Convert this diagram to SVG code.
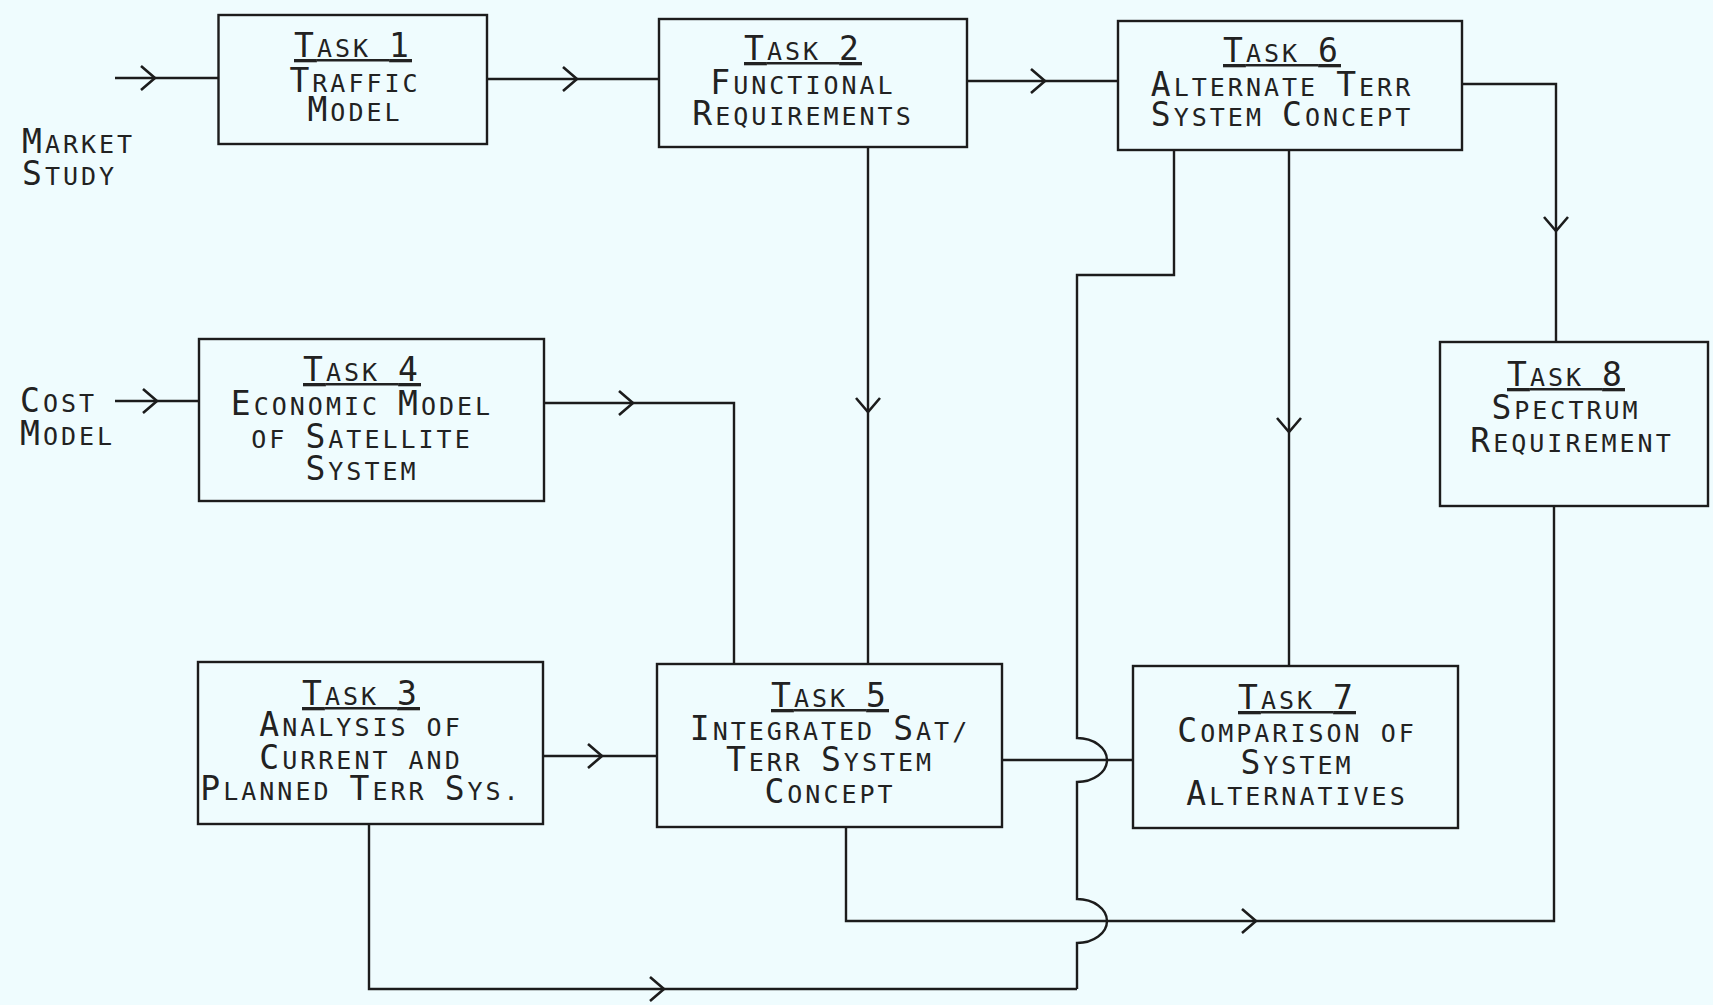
<svg xmlns="http://www.w3.org/2000/svg" xmlns:xlink="http://www.w3.org/1999/xlink" width="1713" height="1005" viewBox="0 0 1713 1005">
<style>
.bg{fill:#EFFCFE}
.box{fill:none;stroke:#1c1c1c;stroke-width:2.4}
.ln{fill:none;stroke:#1c1c1c;stroke-width:2.4}
.t{font-family:"DejaVu Sans Mono","Liberation Mono",monospace;font-size:25px;letter-spacing:3px;fill:#222}
.c{text-anchor:middle}
.b{font-size:33px}
.u{text-decoration:underline}
</style>
<defs>
<path id="chev" d="M-14,-12 L0,0 L-14,12" fill="none" stroke="#1c1c1c" stroke-width="2.6"/>
</defs>
<rect class="bg" x="0" y="0" width="1713" height="1005"/>

<g id="connectors">
<path class="ln" d="M115,78 H218"/>
<use xlink:href="#chev" transform="translate(155,78)"/>
<path class="ln" d="M487,79 H659"/>
<use xlink:href="#chev" transform="translate(577,79)"/>
<path class="ln" d="M967,81 H1118"/>
<use xlink:href="#chev" transform="translate(1045,81)"/>
<path class="ln" d="M1462,84 H1556 V342"/>
<use xlink:href="#chev" transform="translate(1556,231) rotate(90)"/>
<path class="ln" d="M868,147 V664"/>
<use xlink:href="#chev" transform="translate(868,412) rotate(90)"/>
<path class="ln" d="M1289,150 V666"/>
<use xlink:href="#chev" transform="translate(1289,432) rotate(90)"/>
<path class="ln" d="M1174,150 V275 H1077 V738 A30 22 0 0 1 1077 782 V899 A30 22 0 0 1 1077 943 V989"/>
<path class="ln" d="M115,401 H199"/>
<use xlink:href="#chev" transform="translate(157,401)"/>
<path class="ln" d="M544,403 H734 V664"/>
<use xlink:href="#chev" transform="translate(633,403)"/>
<path class="ln" d="M543,756 H657"/>
<use xlink:href="#chev" transform="translate(602,756)"/>
<path class="ln" d="M1002,760 H1133"/>
<path class="ln" d="M846,827 V921 H1554 V506"/>
<use xlink:href="#chev" transform="translate(1256,921)"/>
<path class="ln" d="M369,824 V989 H1077"/>
<use xlink:href="#chev" transform="translate(664,989)"/>
</g>

<g id="market-study">
<text class="t"><tspan x="22" y="153"><tspan class="b">M</tspan>ARKET</tspan><tspan x="22" y="185"><tspan class="b">S</tspan>TUDY</tspan></text>
</g>
<g id="cost-model">
<text class="t"><tspan x="20" y="412"><tspan class="b">C</tspan>OST</tspan><tspan x="20" y="445"><tspan class="b">M</tspan>ODEL</tspan></text>
</g>

<g id="task1">
<rect class="box" x="218.5" y="15" width="268.5" height="129"/>
<text class="t c"><tspan class="u" x="353" y="57"><tspan class="b">T</tspan>ASK <tspan class="b">1</tspan></tspan><tspan x="355" y="92"><tspan class="b">T</tspan>RAFFIC</tspan><tspan x="355" y="121"><tspan class="b">M</tspan>ODEL</tspan></text>
</g>

<g id="task2">
<rect class="box" x="659" y="19" width="308" height="128"/>
<text class="t c"><tspan class="u" x="803" y="60"><tspan class="b">T</tspan>ASK <tspan class="b">2</tspan></tspan><tspan x="803" y="94"><tspan class="b">F</tspan>UNCTIONAL</tspan><tspan x="803" y="125"><tspan class="b">R</tspan>EQUIREMENTS</tspan></text>
</g>

<g id="task6">
<rect class="box" x="1118" y="21" width="344" height="129"/>
<text class="t c"><tspan class="u" x="1282" y="62"><tspan class="b">T</tspan>ASK <tspan class="b">6</tspan></tspan><tspan x="1282" y="96"><tspan class="b">A</tspan>LTERNATE <tspan class="b">T</tspan>ERR</tspan><tspan x="1282" y="126"><tspan class="b">S</tspan>YSTEM <tspan class="b">C</tspan>ONCEPT</tspan></text>
</g>

<g id="task4">
<rect class="box" x="199" y="339" width="345" height="162"/>
<text class="t c"><tspan class="u" x="362" y="381"><tspan class="b">T</tspan>ASK <tspan class="b">4</tspan></tspan><tspan x="362" y="415"><tspan class="b">E</tspan>CONOMIC <tspan class="b">M</tspan>ODEL</tspan><tspan x="362" y="448">OF <tspan class="b">S</tspan>ATELLITE</tspan><tspan x="362" y="480"><tspan class="b">S</tspan>YSTEM</tspan></text>
</g>

<g id="task8">
<rect class="box" x="1440" y="342" width="268" height="164"/>
<text class="t c"><tspan class="u" x="1566" y="386"><tspan class="b">T</tspan>ASK <tspan class="b">8</tspan></tspan><tspan x="1566" y="419"><tspan class="b">S</tspan>PECTRUM</tspan><tspan x="1572" y="452"><tspan class="b">R</tspan>EQUIREMENT</tspan></text>
</g>

<g id="task3">
<rect class="box" x="198" y="662" width="345" height="162"/>
<text class="t c"><tspan class="u" x="361" y="705"><tspan class="b">T</tspan>ASK <tspan class="b">3</tspan></tspan><tspan x="361" y="736"><tspan class="b">A</tspan>NALYSIS OF</tspan><tspan x="361" y="769"><tspan class="b">C</tspan>URRENT AND</tspan><tspan x="361" y="800"><tspan class="b">P</tspan>LANNED <tspan class="b">T</tspan>ERR <tspan class="b">S</tspan>YS.</tspan></text>
</g>

<g id="task5">
<rect class="box" x="657" y="664" width="345" height="163"/>
<text class="t c"><tspan class="u" x="830" y="707"><tspan class="b">T</tspan>ASK <tspan class="b">5</tspan></tspan><tspan x="830" y="740"><tspan class="b">I</tspan>NTEGRATED <tspan class="b">S</tspan>AT/</tspan><tspan x="830" y="771"><tspan class="b">T</tspan>ERR <tspan class="b">S</tspan>YSTEM</tspan><tspan x="830" y="803"><tspan class="b">C</tspan>ONCEPT</tspan></text>
</g>

<g id="task7">
<rect class="box" x="1133" y="666" width="325" height="162"/>
<text class="t c"><tspan class="u" x="1297" y="709"><tspan class="b">T</tspan>ASK <tspan class="b">7</tspan></tspan><tspan x="1297" y="742"><tspan class="b">C</tspan>OMPARISON OF</tspan><tspan x="1297" y="774"><tspan class="b">S</tspan>YSTEM</tspan><tspan x="1297" y="805"><tspan class="b">A</tspan>LTERNATIVES</tspan></text>
</g>
</svg>
